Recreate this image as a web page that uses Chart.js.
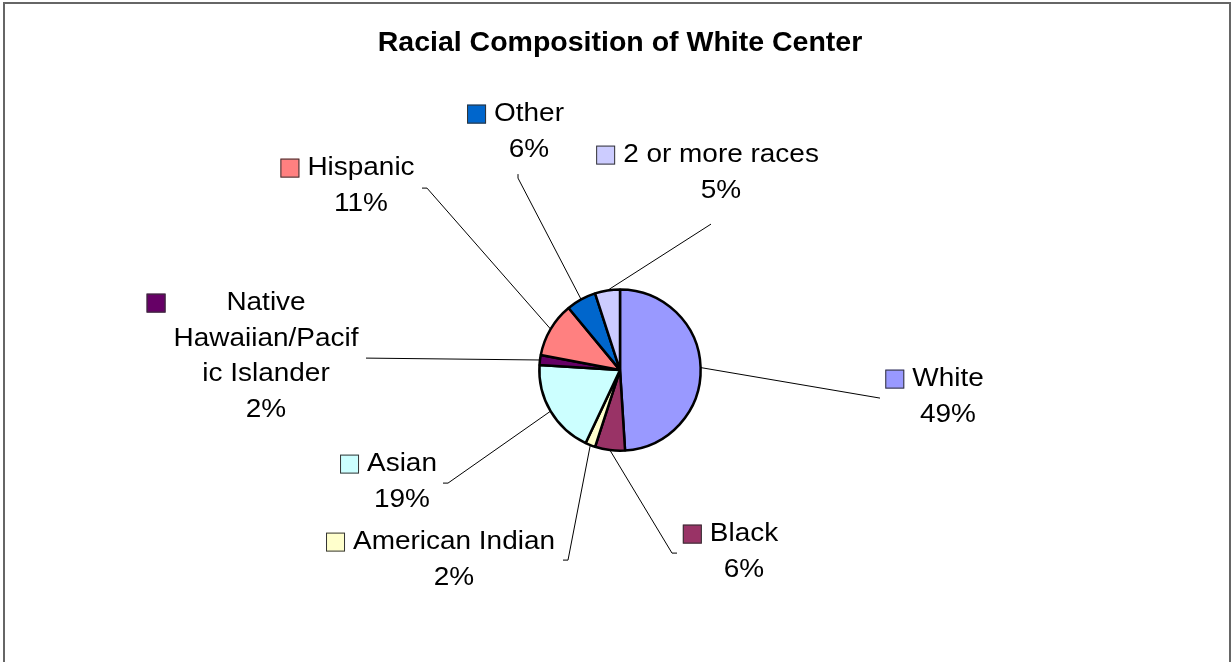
<!DOCTYPE html>
<html>
<head>
<meta charset="utf-8">
<script src="https://cdn.jsdelivr.net/npm/chart.js@4/dist/chart.umd.min.js"></script>
<style>
  html, body { margin: 0; padding: 0; background: #fff; }
  #wrap { width: 1232px; height: 662px; }
</style>
</head>
<body>
<div id="wrap"><canvas id="race-chart"></canvas></div>
<script>
var categories = ["White", "Black", "American Indian", "Asian", "Native Hawaiian/Pacific Islander", "Hispanic", "Other", "2 or more races"];
var labelLines = [["White"], ["Black"], ["American Indian"], ["Asian"], ["Native", "Hawaiian/Pacif", "ic Islander"], ["Hispanic"], ["Other"], ["2 or more races"]];
var percents = [49, 6, 2, 19, 2, 11, 6, 5];
var sliceColors = ["#9999FF", "#993366", "#FFFFCC", "#CCFFFF", "#660066", "#FF8080", "#0066CC", "#CCCCFF"];

// where each label sits relative to the pie centre (centre of its first line)
var labelOffsets = [[328, 9], [124, 164], [-166, 172], [-218, 94], [-354, -67], [-259, -202], [-91, -256], [101, -215]];
// leader line bend point relative to pie centre, and the short end tick
var leaderBends = [[260, 28], [52, 183], [-52, 190], [-172, 113], [-254, -12], [-193, -182], [-102, -192], [91, -146]];
var leaderTicks = [[0, 0], [5, 0], [-5, 0], [-5, 0], [0, 0], [-5, 0], [0, -4], [0, 0]];

var FONT = '"Liberation Sans", Arial, sans-serif';
var STRETCH = 1.075; // labels in the original are a touch wide

var framePlugin = {
  id: "frame",
  beforeDraw: function (chart) {
    var c = chart.ctx;
    c.save();
    c.fillStyle = "#fff";
    c.fillRect(0, 0, chart.width, chart.height);
    c.strokeStyle = "#666";
    c.lineWidth = 2;
    c.strokeRect(4, 3, 1226, 700);
    c.restore();
  }
};

var labelPlugin = {
  id: "sliceLabels",
  afterDatasetsDraw: function (chart) {
    var c = chart.ctx;
    var arcs = chart.getDatasetMeta(0).data;
    c.save();
    arcs.forEach(function (arc, i) {
      var p = arc.getProps(["x", "y", "startAngle", "endAngle", "outerRadius"], true);
      var mid = (p.startAngle + p.endAngle) / 2;
      var sx = p.x + Math.cos(mid) * p.outerRadius;
      var sy = p.y + Math.sin(mid) * p.outerRadius;
      var bx = p.x + leaderBends[i][0];
      var by = p.y + leaderBends[i][1];

      // leader line
      c.strokeStyle = "#000";
      c.lineWidth = 1;
      c.beginPath();
      c.moveTo(sx, sy);
      c.lineTo(bx, by);
      c.lineTo(bx + leaderTicks[i][0], by + leaderTicks[i][1]);
      c.stroke();

      // text block
      var lines = labelLines[i].concat([percents[i] + "%"]);
      var cx = p.x + labelOffsets[i][0];
      var cy = p.y + labelOffsets[i][1];
      c.font = "26px " + FONT;
      c.fillStyle = "#000";
      c.textAlign = "center";
      c.textBaseline = "middle";
      var maxW = 0;
      lines.forEach(function (t, k) {
        maxW = Math.max(maxW, c.measureText(t).width * STRETCH);
        c.save();
        c.translate(cx, cy + k * 35.5);
        c.scale(STRETCH, 1);
        c.fillText(t, 0, 0);
        c.restore();
      });

      // legend key in front of the block
      var kx = cx - maxW / 2 - 8 - 19;
      c.fillStyle = sliceColors[i];
      c.fillRect(kx, cy - 9.5, 19, 19);
      c.strokeStyle = "#333";
      c.lineWidth = 1;
      c.strokeRect(kx + 0.5, cy - 9, 18, 18);
    });
    c.restore();
  }
};

new Chart(document.getElementById("race-chart"), {
  type: "pie",
  data: {
    labels: categories,
    datasets: [{
      data: percents,
      backgroundColor: sliceColors,
      borderColor: "#000",
      borderWidth: 2.5,
      hoverOffset: 0
    }]
  },
  options: {
    responsive: true,
    maintainAspectRatio: false,
    animation: false,
    layout: { padding: { left: 8, right: 0, top: 0, bottom: 210 } },
    plugins: {
      legend: { display: false },
      tooltip: { enabled: false },
      title: {
        display: true,
        text: "Racial Composition of White Center",
        color: "#000",
        font: { family: FONT, size: 28.5, weight: "bold" },
        padding: { top: 26, bottom: 228 }
      }
    }
  },
  plugins: [framePlugin, labelPlugin]
});
</script>
</body>
</html>
